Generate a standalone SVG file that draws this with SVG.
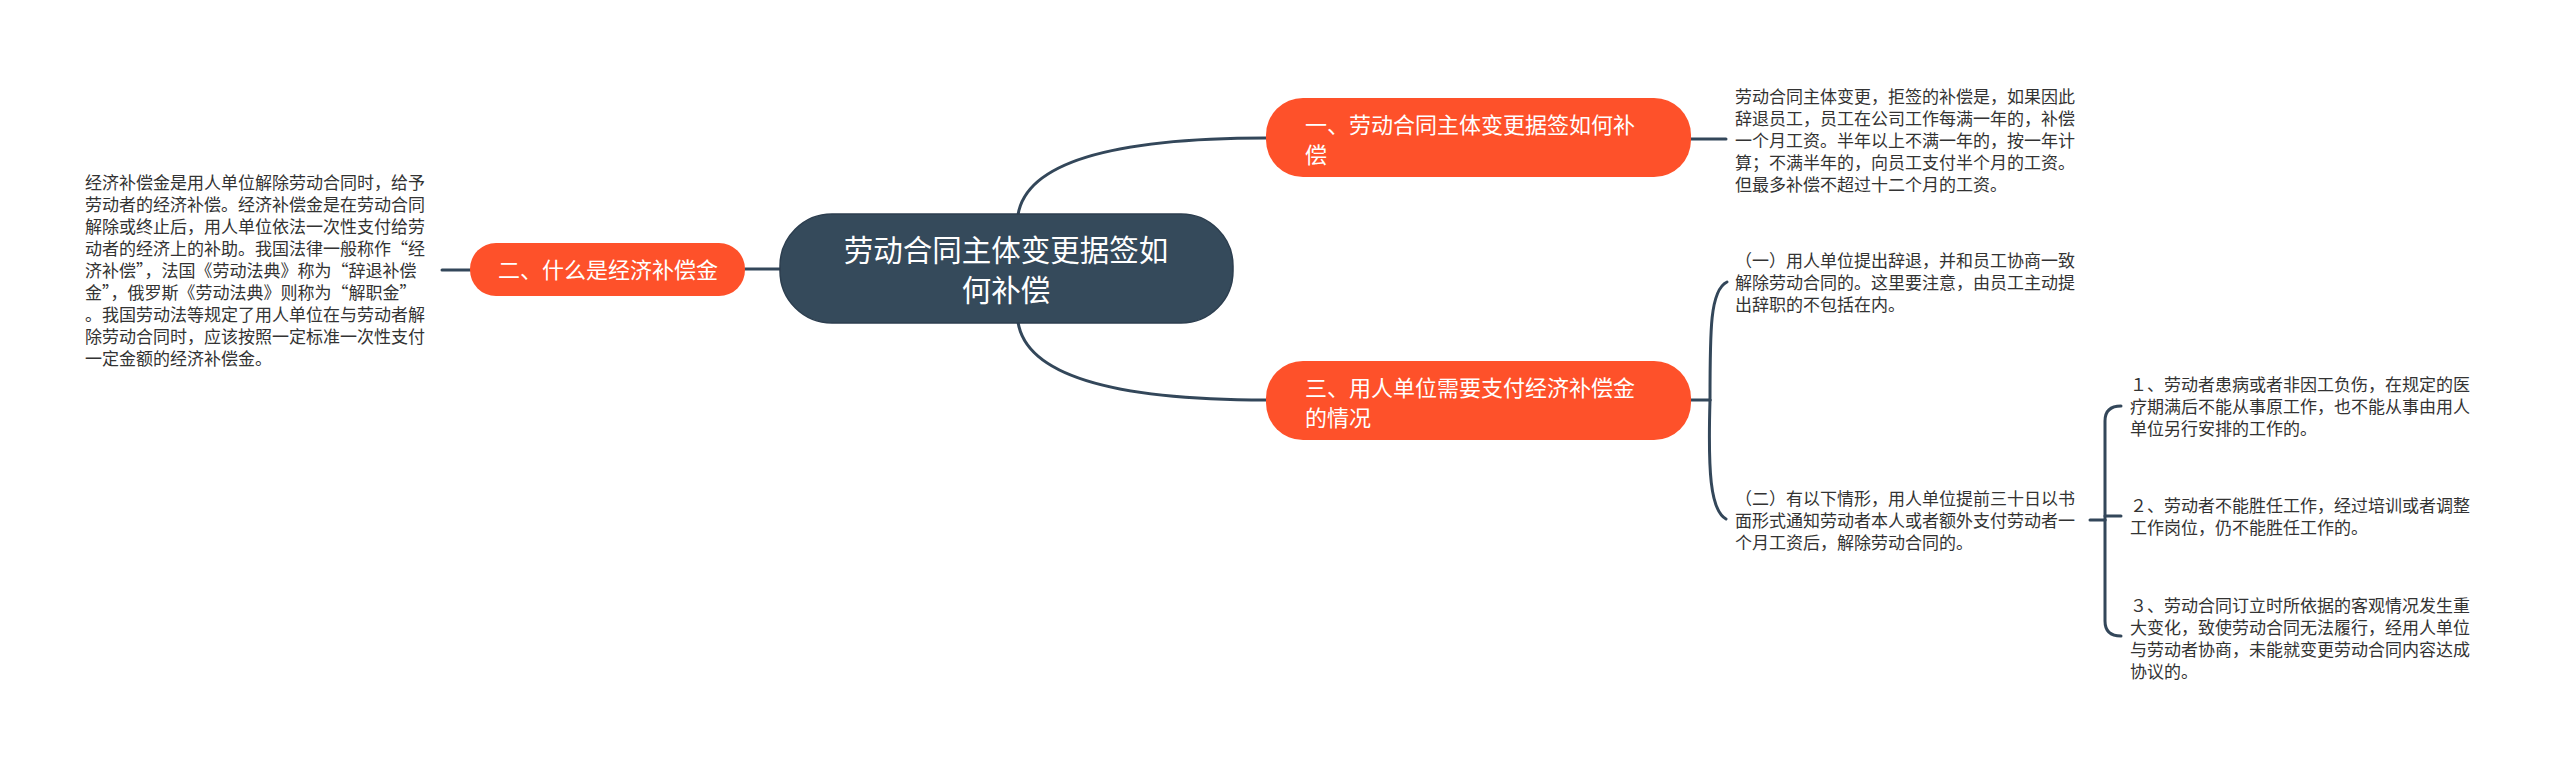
<svg xmlns="http://www.w3.org/2000/svg" width="2560" height="763" viewBox="0 0 2560 763">
<style>
.t{font-family:"Noto Sans CJK SC","Noto Sans",sans-serif;}
.small{font-size:17px;fill:#333333;}
.br{font-size:22px;fill:#ffffff;}
.ctr{font-size:29.5px;fill:#ffffff;}
.ln{fill:none;stroke:#33475a;stroke-width:3;stroke-linecap:round;}
.orange{fill:#fe512a;}
</style>
<rect width="2560" height="763" fill="#ffffff"/>
<g id="connectors">
<path class="ln" d="M1018,215 Q1030,138 1266,138"/>
<path class="ln" d="M1018,322 Q1030,400 1266,400"/>
<path class="ln" d="M780,269 L745,269"/>
<path class="ln" d="M470,270 L442,270"/>
<path class="ln" d="M1691,139 L1726,139"/>
<path class="ln" d="M1691,400 L1710,400"/>
<path class="ln" d="M1710,400 C1710,330 1710,290 1727,282"/>
<path class="ln" d="M1710,400 C1708,470 1710,510 1726,519"/>
<path class="ln" d="M2090,520 L2105,520"/>
<path class="ln" d="M2105,520 L2105,421 Q2105,406 2121,406"/>
<path class="ln" d="M2105,516 L2121,516"/>
<path class="ln" d="M2105,520 L2105,621 Q2105,636 2121,636"/>
</g>
<g id="center">
<rect x="780" y="214" width="453" height="109" rx="52" fill="#354a5b" stroke="#2c3e4f" stroke-width="1.5"/>
<text class="t ctr" text-anchor="middle"><tspan x="1006" y="261">劳动合同主体变更据签如</tspan><tspan x="1006" y="301">何补偿</tspan></text>
</g>
<g id="b1">
<rect class="orange" x="1266" y="98" width="425" height="79" rx="37"/>
<text class="t br"><tspan x="1305" y="133">一、劳动合同主体变更据签如何补</tspan><tspan x="1305" y="163">偿</tspan></text>
</g>
<g id="b1t">
<text class="t small"><tspan x="1735" y="102.5">劳动合同主体变更，拒签的补偿是，如果因此</tspan><tspan x="1735" y="124.5">辞退员工，员工在公司工作每满一年的，补偿</tspan><tspan x="1735" y="146.5">一个月工资。半年以上不满一年的，按一年计</tspan><tspan x="1735" y="168.5">算；不满半年的，向员工支付半个月的工资。</tspan><tspan x="1735" y="190.5">但最多补偿不超过十二个月的工资。</tspan></text>
</g>
<g id="b2">
<rect class="orange" x="470" y="243" width="275" height="53" rx="26"/>
<text class="t br" text-anchor="middle" x="608" y="278">二、什么是经济补偿金</text>
</g>
<g id="b2t">
<text class="t small"><tspan x="85" y="188.5">经济补偿金是用人单位解除劳动合同时，给予</tspan><tspan x="85" y="210.5">劳动者的经济补偿。经济补偿金是在劳动合同</tspan><tspan x="85" y="232.5">解除或终止后，用人单位依法一次性支付给劳</tspan><tspan x="85" y="254.5">动者的经济上的补助。我国法律一般称作“经</tspan><tspan x="85" y="276.5">济补偿”，法国《劳动法典》称为“辞退补偿</tspan><tspan x="85" y="298.5">金”，俄罗斯《劳动法典》则称为“解职金”</tspan><tspan x="85" y="320.5">。我国劳动法等规定了用人单位在与劳动者解</tspan><tspan x="85" y="342.5">除劳动合同时，应该按照一定标准一次性支付</tspan><tspan x="85" y="364.5">一定金额的经济补偿金。</tspan></text>
</g>
<g id="b3">
<rect class="orange" x="1266" y="361" width="425" height="79" rx="37"/>
<text class="t br"><tspan x="1305" y="396">三、用人单位需要支付经济补偿金</tspan><tspan x="1305" y="426">的情况</tspan></text>
</g>
<g id="s1">
<text class="t small"><tspan x="1735" y="266.5">（一）用人单位提出辞退，并和员工协商一致</tspan><tspan x="1735" y="288.5">解除劳动合同的。这里要注意，由员工主动提</tspan><tspan x="1735" y="310.5">出辞职的不包括在内。</tspan></text>
</g>
<g id="s2">
<text class="t small"><tspan x="1735" y="504.5">（二）有以下情形，用人单位提前三十日以书</tspan><tspan x="1735" y="526.5">面形式通知劳动者本人或者额外支付劳动者一</tspan><tspan x="1735" y="548.5">个月工资后，解除劳动合同的。</tspan></text>
</g>
<g id="ss1">
<text class="t small"><tspan x="2130" y="390.5">１、劳动者患病或者非因工负伤，在规定的医</tspan><tspan x="2130" y="412.5">疗期满后不能从事原工作，也不能从事由用人</tspan><tspan x="2130" y="434.5">单位另行安排的工作的。</tspan></text>
</g>
<g id="ss2">
<text class="t small"><tspan x="2130" y="511.5">２、劳动者不能胜任工作，经过培训或者调整</tspan><tspan x="2130" y="533.5">工作岗位，仍不能胜任工作的。</tspan></text>
</g>
<g id="ss3">
<text class="t small"><tspan x="2130" y="611.5">３、劳动合同订立时所依据的客观情况发生重</tspan><tspan x="2130" y="633.5">大变化，致使劳动合同无法履行，经用人单位</tspan><tspan x="2130" y="655.5">与劳动者协商，未能就变更劳动合同内容达成</tspan><tspan x="2130" y="677.5">协议的。</tspan></text>
</g>
</svg>
